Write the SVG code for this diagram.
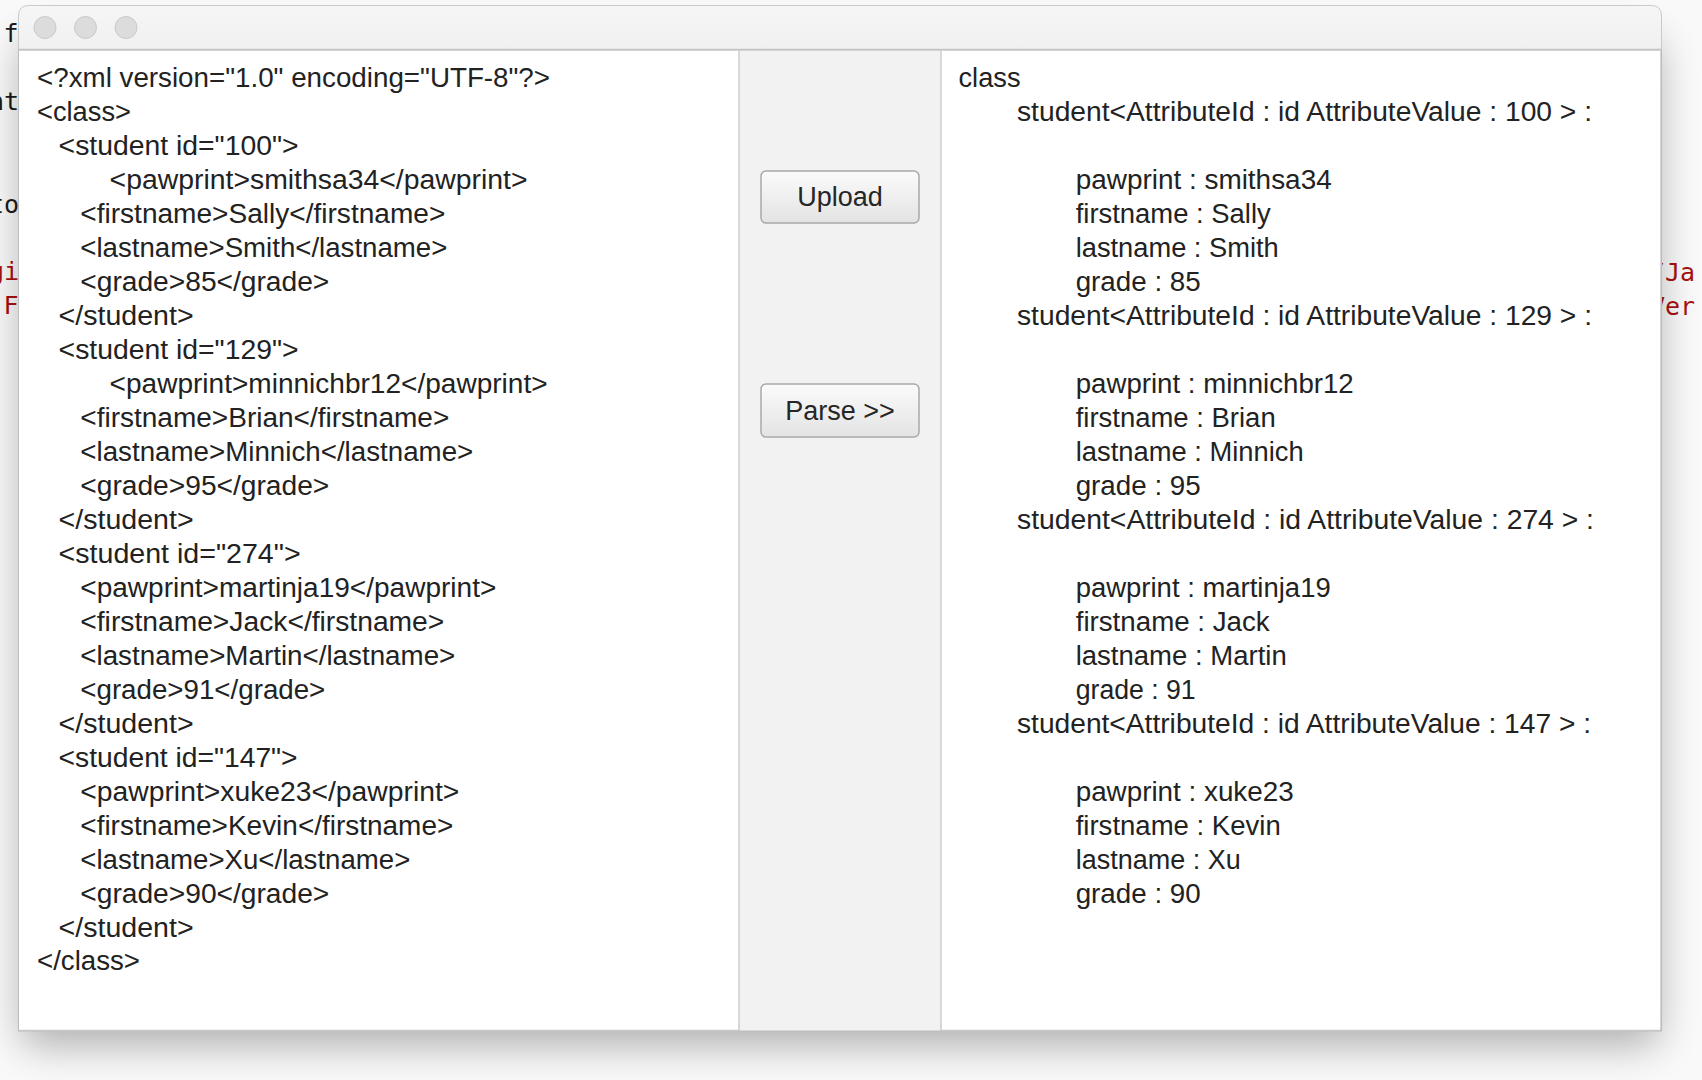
<svg xmlns="http://www.w3.org/2000/svg" width="1702" height="1080" viewBox="0 0 1702 1080">
<defs>
<style>
.t{font-family:"Liberation Sans",Arial,sans-serif;font-size:27px;fill:#222}
.bt{font-family:"Liberation Sans",Arial,sans-serif;font-size:27px;fill:#262626;text-anchor:middle}
.m{font-family:"DejaVu Sans Mono",monospace;font-size:25px;fill:#1a1a1a}
.r{fill:#a81010}
.light{fill:#dcdcdc;stroke:#c9c9c9;stroke-width:1}
.pane{fill:#ffffff}
.btn{fill:url(#btnG);stroke:#a9a9a9;stroke-width:1.5}
</style>
<linearGradient id="btnG" x1="0" y1="0" x2="0" y2="1">
<stop offset="0" stop-color="#fbfbfb"/>
<stop offset="1" stop-color="#e3e3e3"/>
</linearGradient>
<linearGradient id="titleG" x1="0" y1="0" x2="0" y2="1">
<stop offset="0" stop-color="#f6f6f6"/>
<stop offset="1" stop-color="#f0f0f0"/>
</linearGradient>
<filter id="shadow" x="-10%" y="-10%" width="120%" height="125%">
<feGaussianBlur stdDeviation="20"/>
</filter>
</defs>
<rect x="0" y="0" width="1702" height="1080" fill="#f9f9f9"/>
<g id="background-code">
<text class="m" x="3.5" y="42">f</text>
<text class="m" x="-11" y="110">nt</text>
<text class="m" x="-11" y="213">to</text>
<text class="m r" x="-11" y="280">gi</text>
<text class="m r" x="3.5" y="314">F</text>
<text class="m r" x="1650" y="281">/Ja</text>
<text class="m r" x="1650" y="315">Ver</text>
</g>
<rect x="22" y="40" width="1636" height="1005" rx="10" fill="#000" opacity="0.3" filter="url(#shadow)"/>
<g id="window">
<path d="M18.5,50 L18.5,16 Q18.5,5.5 29,5.5 L1651,5.5 Q1661.5,5.5 1661.5,16 L1661.5,50 Z" fill="url(#titleG)" stroke="#c9c9c9" stroke-width="1"/>
<rect x="18.5" y="50" width="1643" height="981" fill="#f2f2f2" stroke="#bdbdbd" stroke-width="1"/>
<line x1="18.5" y1="49.5" x2="1661.5" y2="49.5" stroke="#c4c4c4" stroke-width="1.5"/>
<circle class="light" cx="45" cy="27.5" r="11"/>
<circle class="light" cx="85.5" cy="27.5" r="11"/>
<circle class="light" cx="126" cy="27.5" r="11"/>
</g>
<g id="input-pane">
<rect class="pane" x="19" y="51" width="720" height="980"/>
<line x1="739" y1="51" x2="739" y2="1031" stroke="#c2c2c2" stroke-width="1.2"/>
<line x1="19" y1="1030.5" x2="739" y2="1030.5" stroke="#c8c8c8" stroke-width="1.5"/>
<text class="t" x="37" y="87" textLength="513" lengthAdjust="spacingAndGlyphs">&lt;?xml version="1.0" encoding="UTF-8"?&gt;</text>
<text class="t" x="37" y="121" textLength="94" lengthAdjust="spacingAndGlyphs">&lt;class&gt;</text>
<text class="t" x="58.6" y="155" textLength="240" lengthAdjust="spacingAndGlyphs">&lt;student id="100"&gt;</text>
<text class="t" x="109.6" y="189" textLength="418" lengthAdjust="spacingAndGlyphs">&lt;pawprint&gt;smithsa34&lt;/pawprint&gt;</text>
<text class="t" x="80.3" y="223" textLength="365" lengthAdjust="spacingAndGlyphs">&lt;firstname&gt;Sally&lt;/firstname&gt;</text>
<text class="t" x="80.3" y="257" textLength="367" lengthAdjust="spacingAndGlyphs">&lt;lastname&gt;Smith&lt;/lastname&gt;</text>
<text class="t" x="80.3" y="291" textLength="249" lengthAdjust="spacingAndGlyphs">&lt;grade&gt;85&lt;/grade&gt;</text>
<text class="t" x="58.6" y="325" textLength="135" lengthAdjust="spacingAndGlyphs">&lt;/student&gt;</text>
<text class="t" x="58.6" y="359" textLength="240" lengthAdjust="spacingAndGlyphs">&lt;student id="129"&gt;</text>
<text class="t" x="109.6" y="393" textLength="438" lengthAdjust="spacingAndGlyphs">&lt;pawprint&gt;minnichbr12&lt;/pawprint&gt;</text>
<text class="t" x="80.3" y="427" textLength="369" lengthAdjust="spacingAndGlyphs">&lt;firstname&gt;Brian&lt;/firstname&gt;</text>
<text class="t" x="80.3" y="461" textLength="393" lengthAdjust="spacingAndGlyphs">&lt;lastname&gt;Minnich&lt;/lastname&gt;</text>
<text class="t" x="80.3" y="495" textLength="249" lengthAdjust="spacingAndGlyphs">&lt;grade&gt;95&lt;/grade&gt;</text>
<text class="t" x="58.6" y="529" textLength="135" lengthAdjust="spacingAndGlyphs">&lt;/student&gt;</text>
<text class="t" x="58.6" y="563" textLength="242" lengthAdjust="spacingAndGlyphs">&lt;student id="274"&gt;</text>
<text class="t" x="80.3" y="597" textLength="416" lengthAdjust="spacingAndGlyphs">&lt;pawprint&gt;martinja19&lt;/pawprint&gt;</text>
<text class="t" x="80.3" y="631" textLength="364" lengthAdjust="spacingAndGlyphs">&lt;firstname&gt;Jack&lt;/firstname&gt;</text>
<text class="t" x="80.3" y="665" textLength="375" lengthAdjust="spacingAndGlyphs">&lt;lastname&gt;Martin&lt;/lastname&gt;</text>
<text class="t" x="80.3" y="699" textLength="245" lengthAdjust="spacingAndGlyphs">&lt;grade&gt;91&lt;/grade&gt;</text>
<text class="t" x="58.6" y="733" textLength="135" lengthAdjust="spacingAndGlyphs">&lt;/student&gt;</text>
<text class="t" x="58.6" y="767" textLength="239" lengthAdjust="spacingAndGlyphs">&lt;student id="147"&gt;</text>
<text class="t" x="80.3" y="801" textLength="379" lengthAdjust="spacingAndGlyphs">&lt;pawprint&gt;xuke23&lt;/pawprint&gt;</text>
<text class="t" x="80.3" y="835" textLength="373" lengthAdjust="spacingAndGlyphs">&lt;firstname&gt;Kevin&lt;/firstname&gt;</text>
<text class="t" x="80.3" y="869" textLength="330" lengthAdjust="spacingAndGlyphs">&lt;lastname&gt;Xu&lt;/lastname&gt;</text>
<text class="t" x="80.3" y="903" textLength="249" lengthAdjust="spacingAndGlyphs">&lt;grade&gt;90&lt;/grade&gt;</text>
<text class="t" x="58.6" y="937" textLength="135" lengthAdjust="spacingAndGlyphs">&lt;/student&gt;</text>
<text class="t" x="37" y="970" textLength="103" lengthAdjust="spacingAndGlyphs">&lt;/class&gt;</text>
</g>
<g id="output-pane">
<rect class="pane" x="941" y="51" width="720" height="980"/>
<line x1="941" y1="51" x2="941" y2="1031" stroke="#c2c2c2" stroke-width="1.2"/>
<line x1="941" y1="1030.5" x2="1661" y2="1030.5" stroke="#c8c8c8" stroke-width="1.5"/>
<line x1="1661" y1="51" x2="1661" y2="1031" stroke="#bdbdbd" stroke-width="1.2"/>
<text class="t" x="958.5" y="87" textLength="62" lengthAdjust="spacingAndGlyphs">class</text>
<text class="t" x="1017" y="121" textLength="575" lengthAdjust="spacingAndGlyphs">student&lt;AttributeId : id AttributeValue : 100 &gt; :</text>
<text class="t" x="1075.7" y="189" textLength="256" lengthAdjust="spacingAndGlyphs">pawprint : smithsa34</text>
<text class="t" x="1075.7" y="223" textLength="195" lengthAdjust="spacingAndGlyphs">firstname : Sally</text>
<text class="t" x="1075.7" y="257" textLength="203" lengthAdjust="spacingAndGlyphs">lastname : Smith</text>
<text class="t" x="1075.7" y="291" textLength="125" lengthAdjust="spacingAndGlyphs">grade : 85</text>
<text class="t" x="1017" y="325" textLength="575" lengthAdjust="spacingAndGlyphs">student&lt;AttributeId : id AttributeValue : 129 &gt; :</text>
<text class="t" x="1075.7" y="393" textLength="278" lengthAdjust="spacingAndGlyphs">pawprint : minnichbr12</text>
<text class="t" x="1075.7" y="427" textLength="200" lengthAdjust="spacingAndGlyphs">firstname : Brian</text>
<text class="t" x="1075.7" y="461" textLength="228" lengthAdjust="spacingAndGlyphs">lastname : Minnich</text>
<text class="t" x="1075.7" y="495" textLength="125" lengthAdjust="spacingAndGlyphs">grade : 95</text>
<text class="t" x="1017" y="529" textLength="577" lengthAdjust="spacingAndGlyphs">student&lt;AttributeId : id AttributeValue : 274 &gt; :</text>
<text class="t" x="1075.7" y="597" textLength="255" lengthAdjust="spacingAndGlyphs">pawprint : martinja19</text>
<text class="t" x="1075.7" y="631" textLength="194" lengthAdjust="spacingAndGlyphs">firstname : Jack</text>
<text class="t" x="1075.7" y="665" textLength="211" lengthAdjust="spacingAndGlyphs">lastname : Martin</text>
<text class="t" x="1075.7" y="699" textLength="120" lengthAdjust="spacingAndGlyphs">grade : 91</text>
<text class="t" x="1017" y="733" textLength="574" lengthAdjust="spacingAndGlyphs">student&lt;AttributeId : id AttributeValue : 147 &gt; :</text>
<text class="t" x="1075.7" y="801" textLength="218" lengthAdjust="spacingAndGlyphs">pawprint : xuke23</text>
<text class="t" x="1075.7" y="835" textLength="205" lengthAdjust="spacingAndGlyphs">firstname : Kevin</text>
<text class="t" x="1075.7" y="869" textLength="165" lengthAdjust="spacingAndGlyphs">lastname : Xu</text>
<text class="t" x="1075.7" y="903" textLength="125" lengthAdjust="spacingAndGlyphs">grade : 90</text>
</g>
<g id="upload-button">
<rect class="btn" x="761" y="171" width="158" height="52" rx="5"/>
<text class="bt" x="840" y="206">Upload</text>
</g>
<g id="parse-button">
<rect class="btn" x="761" y="384" width="158" height="53" rx="5"/>
<text class="bt" x="840" y="420">Parse &gt;&gt;</text>
</g>
<g id="connectors"/>
</svg>
